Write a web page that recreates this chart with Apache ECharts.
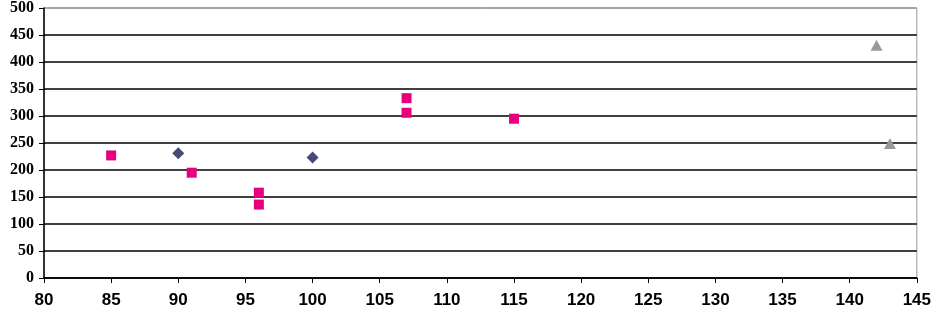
<!DOCTYPE html>
<html><head><meta charset="utf-8">
<script src="https://cdn.jsdelivr.net/npm/echarts@6/dist/echarts.min.js"></script>
<style>html,body{margin:0;padding:0;background:#fff}#c{width:934px;height:311px}</style>
</head><body><div id="c"></div>
<script>
const xTicks = [80,85,90,95,100,105,110,115,120,125,130,135,140,145];
const yTicks = [0,50,100,150,200,250,300,350,400,450,500];
const diamondSeries = [[90,231],[100,223]];
const squareSeries = [[85,227],[91,195],[96,158],[96,136],[107,333],[107,306],[115,295]];
const triangleSeries = [[142,431],[143,249]];

const gridColors = yTicks.map(v => v === 500 ? '#999' : '#000');
const chart = echarts.init(document.getElementById('c'), null, {renderer:'canvas'});
chart.setOption({
  animation:false,
  backgroundColor:'#fff',
  grid:{left:44,right:16,top:7,bottom:33,show:true,borderColor:'#999',borderWidth:1,backgroundColor:'transparent'},
  xAxis:{type:'value',min:80,max:145,interval:5,
    axisLine:{show:true,onZero:false,lineStyle:{color:'#000',width:1.5}},
    axisTick:{show:true,length:5,lineStyle:{color:'#000'}},
    splitLine:{show:false},
    axisLabel:{margin:14,color:'#000',fontFamily:'Liberation Sans, Arial',fontWeight:'bold',fontSize:17}},
  yAxis:{type:'value',min:0,max:500,interval:50,
    axisLine:{show:true,onZero:false,lineStyle:{color:'#000',width:1.5}},
    axisTick:{show:true,length:5,lineStyle:{color:'#000'}},
    splitLine:{show:true,lineStyle:{color:gridColors,width:1.5}},
    axisLabel:{margin:10,color:'#000',fontFamily:'Liberation Serif, Times New Roman',fontWeight:'bold',fontSize:16}},
  series:[
    {type:'scatter',data:diamondSeries,symbol:'diamond',symbolSize:[12,12],itemStyle:{color:'#484878',opacity:1}},
    {type:'scatter',data:squareSeries,symbol:'rect',symbolSize:10,itemStyle:{color:'#e6007e',opacity:1}},
    {type:'scatter',data:triangleSeries,symbol:'triangle',symbolSize:[12,11],itemStyle:{color:'#999999',opacity:1}}
  ]
});
</script></body></html>
